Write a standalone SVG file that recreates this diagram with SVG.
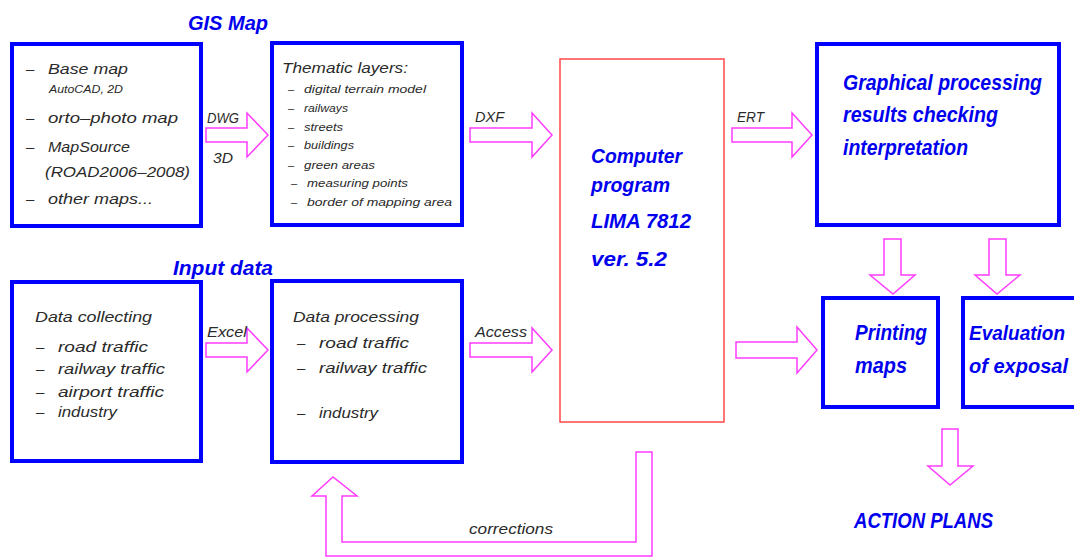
<svg xmlns="http://www.w3.org/2000/svg" width="1074" height="558" viewBox="0 0 1074 558">
  <style>
    .box { fill: #ffffff; stroke: #0000ff; stroke-width: 4; }
    .prog { fill: #ffffff; stroke: #ff4848; stroke-width: 1.5; }
    .arrow { fill: #ffffff; stroke: #ff3cff; stroke-width: 1.5; stroke-linejoin: miter; }
    .t { font-family: "Liberation Sans", Arial, sans-serif; font-style: italic; fill: #2a2a2a; }
    .t15 { font-size: 15px; }
    .t11 { font-size: 11px; }
    .t10 { font-size: 10px; }
    .t14 { font-size: 14px; }
    .h { font-family: "Liberation Sans", Arial, sans-serif; font-style: italic; font-weight: bold; fill: #0000ee; font-size: 20px; }
    .h22 { font-size: 22px; }
    .h20 { font-size: 20.5px; }
  </style>
  <rect width="1074" height="558" fill="#ffffff"/>

  <!-- section headings -->
  <text class="h" x="188" y="30" textLength="80" lengthAdjust="spacingAndGlyphs">GIS  Map</text>
  <text class="h" x="173" y="275" textLength="100" lengthAdjust="spacingAndGlyphs">Input  data</text>

  <!-- source maps -->
  <g id="base-maps">
    <rect class="box" x="12" y="44" width="189" height="182"/>
    <text class="t t15" x="26" y="74">–</text>
    <text class="t t15" x="48" y="74" textLength="80" lengthAdjust="spacingAndGlyphs">Base  map</text>
    <text class="t t10" x="49" y="93" textLength="74" lengthAdjust="spacingAndGlyphs">AutoCAD, 2D</text>
    <text class="t t15" x="26" y="123">–</text>
    <text class="t t15" x="48" y="123" textLength="130" lengthAdjust="spacingAndGlyphs">orto–photo  map</text>
    <text class="t t15" x="26" y="152">–</text>
    <text class="t t15" x="48" y="152" textLength="82" lengthAdjust="spacingAndGlyphs">MapSource</text>
    <text class="t t15" x="45" y="177" textLength="145" lengthAdjust="spacingAndGlyphs">(ROAD2006–2008)</text>
    <text class="t t15" x="26" y="204">–</text>
    <text class="t t15" x="48" y="204" textLength="105" lengthAdjust="spacingAndGlyphs">other  maps...</text>
  </g>

  <!-- thematic layers -->
  <g id="thematic-layers">
    <rect class="box" x="272" y="43" width="190" height="182"/>
    <text class="t t15" x="282" y="73" textLength="126" lengthAdjust="spacingAndGlyphs">Thematic  layers:</text>
    <text class="t t11" x="288" y="93">–</text>
    <text class="t t11" x="304" y="93" textLength="122" lengthAdjust="spacingAndGlyphs">digital  terrain  model</text>
    <text class="t t11" x="288" y="112">–</text>
    <text class="t t11" x="304" y="112" textLength="44" lengthAdjust="spacingAndGlyphs">railways</text>
    <text class="t t11" x="288" y="131">–</text>
    <text class="t t11" x="304" y="131" textLength="39" lengthAdjust="spacingAndGlyphs">streets</text>
    <text class="t t11" x="288" y="149">–</text>
    <text class="t t11" x="304" y="149" textLength="50" lengthAdjust="spacingAndGlyphs">buildings</text>
    <text class="t t11" x="288" y="169">–</text>
    <text class="t t11" x="304" y="169" textLength="71" lengthAdjust="spacingAndGlyphs">green  areas</text>
    <text class="t t11" x="291" y="187">–</text>
    <text class="t t11" x="307" y="187" textLength="101" lengthAdjust="spacingAndGlyphs">measuring  points</text>
    <text class="t t11" x="291" y="206">–</text>
    <text class="t t11" x="307" y="206" textLength="145" lengthAdjust="spacingAndGlyphs">border  of  mapping  area</text>
  </g>

  <!-- central program -->
  <g id="computer-program">
    <rect class="prog" x="560" y="59" width="164" height="363"/>
    <text class="h" x="591" y="163" textLength="91" lengthAdjust="spacingAndGlyphs">Computer</text>
    <text class="h" x="591" y="192" textLength="79" lengthAdjust="spacingAndGlyphs">program</text>
    <text class="h" x="591" y="228" textLength="100" lengthAdjust="spacingAndGlyphs">LIMA  7812</text>
    <text class="h" x="591" y="266" textLength="76" lengthAdjust="spacingAndGlyphs">ver.  5.2</text>
  </g>

  <!-- graphical processing -->
  <g id="graphical-processing">
    <rect class="box" x="817" y="44" width="242" height="181"/>
    <text class="h h22" x="843" y="90" textLength="199" lengthAdjust="spacingAndGlyphs">Graphical  processing</text>
    <text class="h h22" x="843" y="122" textLength="155" lengthAdjust="spacingAndGlyphs">results  checking</text>
    <text class="h h22" x="843" y="155" textLength="125" lengthAdjust="spacingAndGlyphs">interpretation</text>
  </g>

  <!-- data collecting -->
  <g id="data-collecting">
    <rect class="box" x="12" y="282" width="189" height="179"/>
    <text class="t t15" x="35" y="322" textLength="117" lengthAdjust="spacingAndGlyphs">Data  collecting</text>
    <text class="t t15" x="36" y="352">–</text>
    <text class="t t15" x="58" y="352" textLength="90" lengthAdjust="spacingAndGlyphs">road  traffic</text>
    <text class="t t15" x="36" y="374">–</text>
    <text class="t t15" x="58" y="374" textLength="107" lengthAdjust="spacingAndGlyphs">railway  traffic</text>
    <text class="t t15" x="36" y="397">–</text>
    <text class="t t15" x="58" y="397" textLength="106" lengthAdjust="spacingAndGlyphs">airport  traffic</text>
    <text class="t t15" x="36" y="417">–</text>
    <text class="t t15" x="58" y="417" textLength="59" lengthAdjust="spacingAndGlyphs">industry</text>
  </g>

  <!-- data processing -->
  <g id="data-processing">
    <rect class="box" x="272" y="281" width="190" height="181"/>
    <text class="t t15" x="293" y="322" textLength="126" lengthAdjust="spacingAndGlyphs">Data  processing</text>
    <text class="t t15" x="297" y="348">–</text>
    <text class="t t15" x="319" y="348" textLength="90" lengthAdjust="spacingAndGlyphs">road  traffic</text>
    <text class="t t15" x="297" y="373">–</text>
    <text class="t t15" x="319" y="373" textLength="108" lengthAdjust="spacingAndGlyphs">railway  traffic</text>
    <text class="t t15" x="297" y="418">–</text>
    <text class="t t15" x="319" y="418" textLength="59" lengthAdjust="spacingAndGlyphs">industry</text>
  </g>

  <!-- outputs -->
  <g id="printing-maps">
    <rect class="box" x="823" y="298" width="115" height="109"/>
    <text class="h h22" x="855" y="340" textLength="72" lengthAdjust="spacingAndGlyphs">Printing</text>
    <text class="h h22" x="855" y="373" textLength="52" lengthAdjust="spacingAndGlyphs">maps</text>
  </g>
  <g id="evaluation">
    <!-- box runs on past the right margin, so only three sides show -->
    <path class="box" d="M1074,298 H963 V407 H1074"/>
    <text class="h h20" x="969" y="340" textLength="96" lengthAdjust="spacingAndGlyphs">Evaluation</text>
    <text class="h h20" x="969" y="373" textLength="99" lengthAdjust="spacingAndGlyphs">of  exposal</text>
  </g>
  <g id="action-plans">
    <text class="h h22" x="854" y="528" textLength="139" lengthAdjust="spacingAndGlyphs" font-style="normal">ACTION  PLANS</text>
  </g>

  <!-- block arrows between stages -->
  <g id="connectors">
    <polygon class="arrow" points="206,128 247,128 247,113 268,135 247,157 247,142 206,142"/>
    <polygon class="arrow" points="470,128 532,128 532,113 552,135 532,157 532,142 470,142"/>
    <polygon class="arrow" points="732,128 792,128 792,113 812,135 792,157 792,142 732,142"/>
    <polygon class="arrow" points="206,343 247,343 247,328 268,350 247,372 247,357 206,357"/>
    <polygon class="arrow" points="470,343 532,343 532,328 552,350 532,372 532,357 470,357"/>
    <polygon class="arrow" points="736,342 797,342 797,327 817,350 797,373 797,358 736,358"/>
    <polygon class="arrow" points="884,239 901,239 901,275 915,275 893,294 870,275 884,275"/>
    <polygon class="arrow" points="989,239 1006,239 1006,275 1020,275 997,294 975,275 989,275"/>
    <polygon class="arrow" points="942,429 958,429 958,466 973,466 950,485 928,466 942,466"/>
    <!-- feedback loop back to data processing -->
    <polygon class="arrow" points="636,452 652,452 652,556 326,556 326,496 312,496 333,477 357,496 342,496 342,542 636,542"/>

    <text class="t t14" x="207" y="123" textLength="32" lengthAdjust="spacingAndGlyphs">DWG</text>
    <text class="t t14" x="213" y="163" textLength="20" lengthAdjust="spacingAndGlyphs">3D</text>
    <text class="t t14" x="475" y="122" textLength="29" lengthAdjust="spacingAndGlyphs">DXF</text>
    <text class="t t14" x="737" y="122" textLength="27" lengthAdjust="spacingAndGlyphs">ERT</text>
    <text class="t t14" x="207" y="337" textLength="40" lengthAdjust="spacingAndGlyphs">Excel</text>
    <text class="t t14" x="475" y="337" textLength="52" lengthAdjust="spacingAndGlyphs">Access</text>
    <text class="t t14" x="469" y="534" textLength="84" lengthAdjust="spacingAndGlyphs">corrections</text>
  </g>
</svg>
